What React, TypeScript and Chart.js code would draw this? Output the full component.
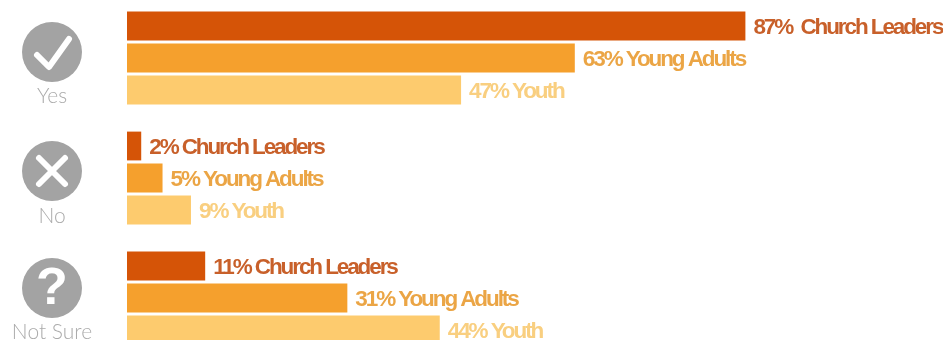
import React, { useEffect, useRef } from "react";
import { Chart, registerables } from "chart.js";

Chart.register(...registerables);

const answers = ["Yes", "No", "Not Sure"];
const groups = ["Church Leaders", "Young Adults", "Youth"];
const churchLeaders = [87, 2, 11];
const youngAdults = [63, 5, 31];
const youth = [47, 9, 44];

const barColors = ["#D55407", "#F5A02D", "#FDCB6E"];
const textColors = ["#C8602A", "#EBA545", "#F9CF80"];
const iconGray = "#A3A3A3";
const captionGray = "#ABABAB";

// Vertical offsets of each answer's badge and caption from its row group centre.
const badgeOffsets = [-6, -7, -10];
const captionOffsets = [38, 38, 34];

const annotate = {
  id: "annotate",
  afterDatasetsDraw(chart: any) {
    const { ctx } = chart;
    ctx.save();

    // Value and group name to the right of every bar.
    ctx.font = 'bold 22.5px "Liberation Sans"';
    ctx.letterSpacing = "-2.1px";
    ctx.textBaseline = "middle";
    ctx.textAlign = "left";
    chart.data.datasets.forEach((ds: any, i: number) => {
      chart.getDatasetMeta(i).data.forEach((bar: any, j: number) => {
        ctx.fillStyle = textColors[i];
        const gap = ds.data[j] === 87 ? "  " : " ";
        ctx.fillText(`${ds.data[j]}%${gap}${ds.label}`, bar.x + 8, bar.y + 1.5);
      });
    });

    // Answer badges and captions in the left margin.
    const y = chart.scales.y;
    answers.forEach((answer, j) => {
      const cy = y.getPixelForTick(j);
      const by = cy + badgeOffsets[j];
      const bx = 52;
      ctx.fillStyle = iconGray;
      ctx.beginPath();
      ctx.arc(bx, by, 30, 0, Math.PI * 2);
      ctx.fill();

      ctx.strokeStyle = "#FFFFFF";
      ctx.fillStyle = "#FFFFFF";
      ctx.lineWidth = 6;
      ctx.lineCap = "round";
      ctx.lineJoin = "round";
      ctx.beginPath();
      if (j === 0) {
        ctx.moveTo(bx - 15, by + 3);
        ctx.lineTo(bx - 3, by + 15);
        ctx.lineTo(bx + 17, by - 13);
        ctx.stroke();
      } else if (j === 1) {
        ctx.moveTo(bx - 13, by - 13);
        ctx.lineTo(bx + 13, by + 13);
        ctx.moveTo(bx + 13, by - 13);
        ctx.lineTo(bx - 13, by + 13);
        ctx.stroke();
      } else {
        ctx.font = 'bold 52px "Liberation Sans"';
        ctx.letterSpacing = "0px";
        ctx.textAlign = "center";
        ctx.fillText("?", bx, by + 2);
      }

      ctx.font = '300 21px "Lato"';
      ctx.letterSpacing = "0px";
      ctx.textAlign = "center";
      ctx.fillStyle = captionGray;
      ctx.fillText(answer, bx, cy + captionOffsets[j]);
    });
    ctx.restore();
  },
};

export default function App() {
  const ref = useRef<HTMLCanvasElement>(null);

  useEffect(() => {
    const series = [churchLeaders, youngAdults, youth];
    const chart = new Chart(ref.current!, {
      type: "bar",
      data: {
        labels: answers,
        datasets: groups.map((label, i) => ({
          label,
          data: series[i],
          backgroundColor: barColors[i],
          categoryPercentage: 0.8,
          barPercentage: 0.9,
        })),
      },
      options: {
        indexAxis: "y",
        animation: false,
        responsive: false,
        layout: { padding: { left: 127 } },
        plugins: { legend: { display: false }, tooltip: { enabled: false } },
        scales: {
          x: { display: false, min: 0, max: 114.8 },
          y: { display: false },
        },
      },
      plugins: [annotate],
    });
    return () => chart.destroy();
  }, []);

  return (
    <div style={{ position: "fixed", left: 0, top: 0, width: 943, height: 340, overflow: "hidden", background: "#fff" }}>
      <canvas ref={ref} width={943} height={360} style={{ position: "absolute", left: 0, top: -2, display: "block" }} />
    </div>
  );
}
